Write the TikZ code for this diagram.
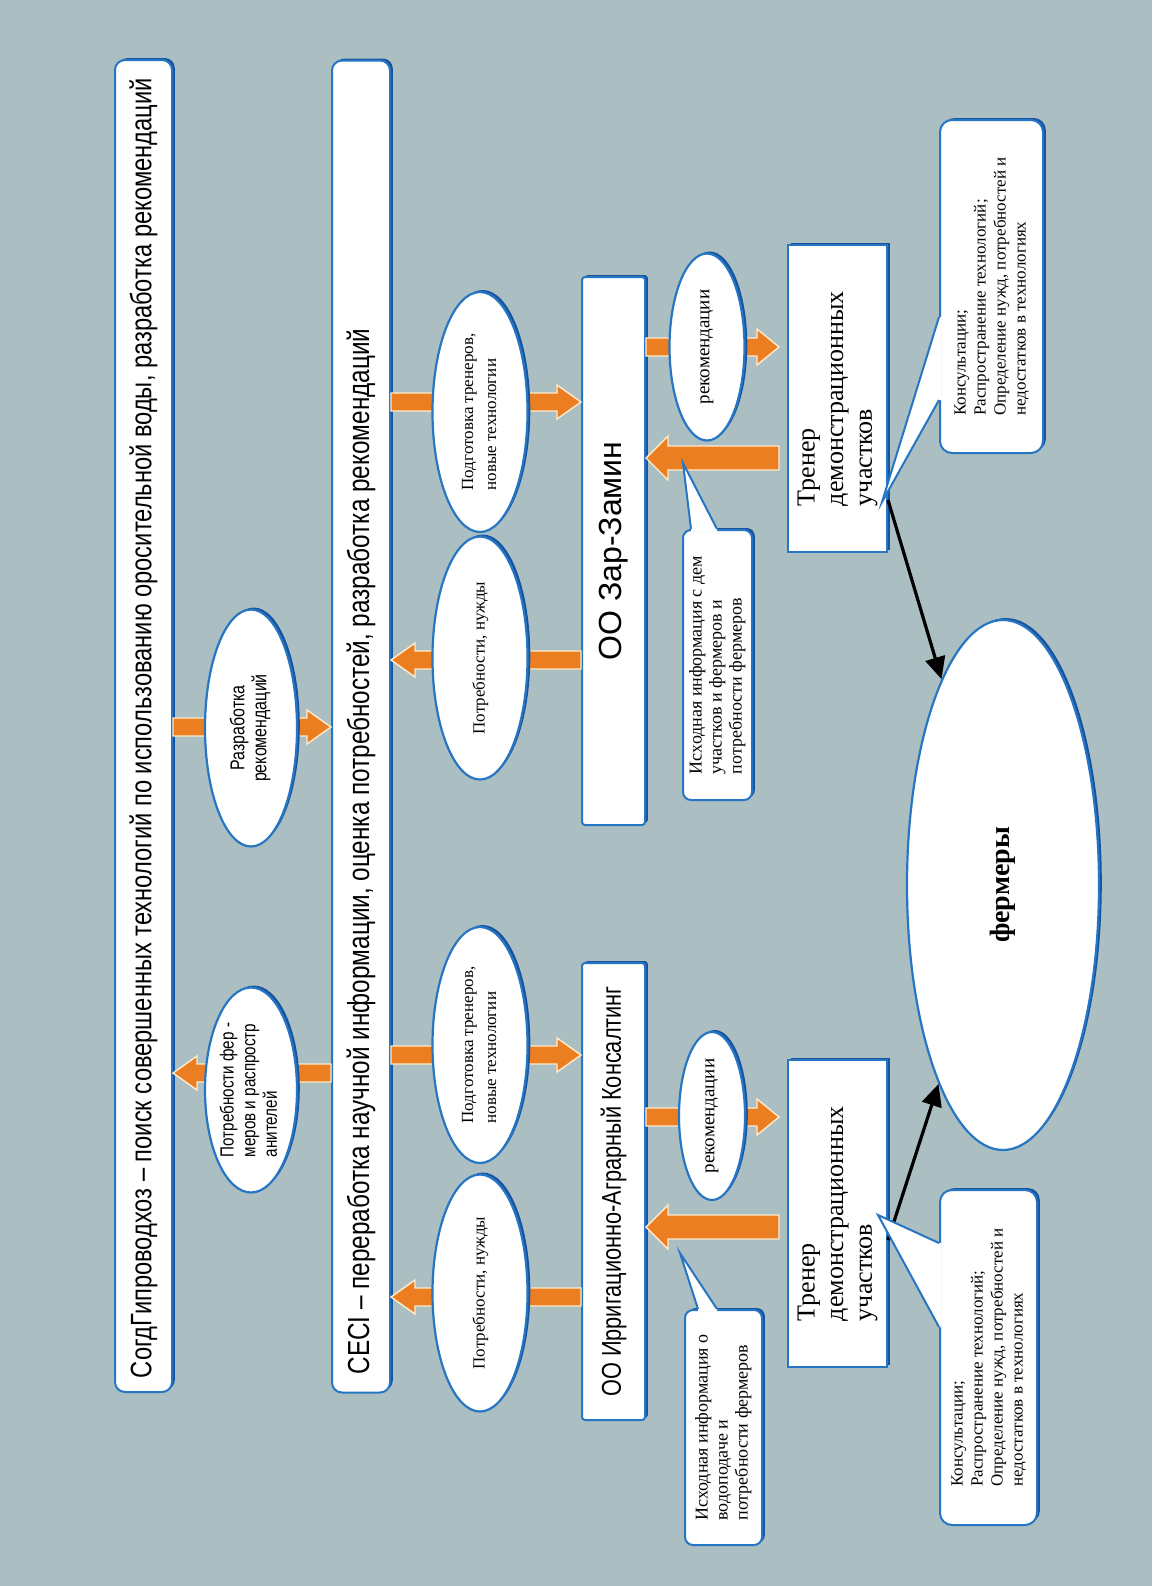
\documentclass[tikz,border=0pt]{standalone}
\usepackage{fontspec}
\setmainfont{Liberation Serif}
\newfontfamily\narrowfont[FakeStretch=0.8]{Liberation Sans}
\newfontfamily\plainsans{Liberation Sans}
\usepackage{graphicx}
\usetikzlibrary{shapes.geometric, shadows, calc, arrows.meta}
\definecolor{bgA}{RGB}{171,190,193}
\definecolor{blueA}{RGB}{38,118,196}
\definecolor{blueD}{RGB}{22,84,160}
\definecolor{orA}{RGB}{236,126,34}
\definecolor{orL}{RGB}{255,236,205}
\tikzset{
  shad/.style={drop shadow={shadow xshift=1.4pt, shadow yshift=1pt, fill=blueD, opacity=1}},
  bigbox/.style={draw=blueA, fill=white, line width=1pt, rounded corners=5pt, inner sep=0pt, shad},
  oobox/.style={draw=blueA, fill=white, line width=1pt, rounded corners=1.5pt, inner sep=0pt, shad},
  trbox/.style={draw=blueA, fill=white, line width=1pt, inner sep=0pt, shad},
  ell/.style={ellipse, draw=blueA, fill=white, line width=1.1pt, inner sep=0pt, shad},
  callbox/.style={draw=blueA, fill=white, line width=1pt, rounded corners=6pt, inner sep=0pt, shad},
  smallcall/.style={draw=blueA, fill=white, line width=1pt, rounded corners=4pt, inner sep=0pt, shad},
  calline/.style={draw=blueA, line width=1pt, line join=miter},
  oarr/.style={fill=orA, draw=orL, line width=0.7pt, line join=miter},
  blk/.style={draw=black, line width=1.6pt, -{Triangle[length=11pt,width=10pt]}},
}
\newcommand\blockarrow[5]{%
  \path[oarr] let \p1=(#1), \p2=(#2), \n1={sign(\x2-\x1)} in
   (\x1,\y1+#3) -- ({\x2-(\n1)*#5},\y1+#3) -- ({\x2-(\n1)*#5},\y1+#4) -- (\x2,\y1)
   -- ({\x2-(\n1)*#5},\y1-#4) -- ({\x2-(\n1)*#5},\y1-#3) -- (\x1,\y1-#3) -- cycle;}
\newcommand\callptr[5]{%
  \fill[white] (#4) -- (#1) -- (#2) -- (#3) -- (#5) -- cycle;
  \draw[calline] (#1) -- (#2) -- (#3);}
\newcommand\rtab[3]{\rotatebox{90}{#1\begin{tabular}{@{}#2@{}}#3\end{tabular}}}
\begin{document}
\begin{tikzpicture}[x=0.5pt, y=-0.5pt]
\useasboundingbox (0,0) rectangle (1152,1586);
\fill[bgA] (0,0) rectangle (1152,1586);

% main boxes
\node[bigbox, minimum width=28.5pt, minimum height=666pt] (top) at (143.5,726)
  {\rotatebox{90}{\makebox[652pt][l]{\narrowfont\fontsize{14.8}{17}\selectfont СогдГипроводхоз – поиск совершенных технологий по использованию оросительной воды, разработка рекомендаций}}};
\node[bigbox, minimum width=29pt, minimum height=666pt] (ceci) at (361,726.5)
  {\rotatebox{90}{\makebox[648pt][l]{\narrowfont\fontsize{15.2}{17}\selectfont CECI – переработка научной информации, оценка потребностей, разработка рекомендаций}}};
\node[oobox, minimum width=31.5pt, minimum height=274pt] (oo1) at (613.5,551)
  {\rotatebox{90}{\plainsans\fontsize{16}{18}\selectfont ОО Зар-Замин}};
\node[oobox, minimum width=31.5pt, minimum height=228.5pt] (oo2) at (613.5,1191.5)
  {\rotatebox{90}{\narrowfont\fontsize{13.6}{16}\selectfont ОО Ирригационно-Аграрный Консалтинг}};
\node[trbox, minimum width=49.5pt, minimum height=153.5pt] (tr1) at (837.5,398.5)
  {\rtab{\fontsize{13}{14.3}\selectfont}{l}{Тренер\\демонстрационных\\участков}};
\node[trbox, minimum width=49.5pt, minimum height=153.5pt] (tr2) at (837.5,1213.5)
  {\rtab{\fontsize{13}{14.3}\selectfont}{l}{Тренер\\демонстрационных\\участков}};

% orange arrows
\blockarrow{top.east |- 0,727}{ceci.west |- 0,727}{4.5pt}{8.5pt}{12pt}
\blockarrow{ceci.west |- 0,1073}{top.east |- 0,1073}{4.5pt}{8.5pt}{12pt}
\blockarrow{ceci.east |- 0,402}{oo1.west |- 0,402}{4.5pt}{8.5pt}{12pt}
\blockarrow{oo1.west |- 0,660}{ceci.east |- 0,660}{4.5pt}{8.5pt}{12pt}
\blockarrow{ceci.east |- 0,1055}{oo2.west |- 0,1055}{4.5pt}{8.5pt}{12pt}
\blockarrow{oo2.west |- 0,1297}{ceci.east |- 0,1297}{4.5pt}{8.5pt}{12pt}
\blockarrow{oo1.east |- 0,347}{$(tr1.west |- 0,347)+(-8,0)$}{4.5pt}{9pt}{11pt}
\blockarrow{$(tr1.west |- 0,458)+(-8,0)$}{oo1.east |- 0,458}{6pt}{11pt}{11pt}
\blockarrow{oo2.east |- 0,1117}{$(tr2.west |- 0,1117)+(-8,0)$}{4.5pt}{9pt}{11pt}
\blockarrow{$(tr2.west |- 0,1227)+(-8,0)$}{oo2.east |- 0,1227}{6pt}{11pt}{11pt}

% ellipses
\node[ell, minimum width=46pt, minimum height=102.5pt] (e1) at (251,1090)
  {\rtab{\narrowfont\fontsize{9.5}{10.8}\selectfont}{l}{Потребности фер -\\меров и распростр\\анителей}};
\node[ell, minimum width=46pt, minimum height=118.5pt] (e2) at (251,728)
  {\rtab{\narrowfont\fontsize{10}{11}\selectfont}{c}{Разработка\\рекомендаций}};
\node[ell, minimum width=47.5pt, minimum height=120pt] (e3) at (480,412)
  {\rtab{\fontsize{8.5}{11.5}\selectfont}{l}{Подготовка тренеров,\\новые технологии}};
\node[ell, minimum width=47.5pt, minimum height=121.5pt] (e4) at (480,658)
  {\rtab{\fontsize{8.5}{11.5}\selectfont}{l}{Потребности, нужды}};
\node[ell, minimum width=47.5pt, minimum height=118pt] (e5) at (480,1045)
  {\rtab{\fontsize{8.5}{11.5}\selectfont}{l}{Подготовка тренеров,\\новые технологии}};
\node[ell, minimum width=47.5pt, minimum height=118.5pt] (e6) at (480,1293)
  {\rtab{\fontsize{8.5}{11.5}\selectfont}{l}{Потребности, нужды}};
\node[ell, minimum width=37.5pt, minimum height=93.5pt] (e7) at (707,347)
  {\rotatebox{90}{\fontsize{9.5}{11}\selectfont рекомендации}};
\node[ell, minimum width=33pt, minimum height=84pt] (e8) at (712,1116)
  {\rotatebox{90}{\fontsize{9.5}{11}\selectfont рекомендации}};
\node[ell, minimum width=96pt, minimum height=265pt] (fermers) at (1003,885)
  {\rotatebox{90}{\fontsize{14}{16}\selectfont\bfseries фермеры}};

% black arrows
\draw[blk] (tr1.east |- 0,500) -- (fermers);
\draw[blk] (tr2.east |- 0,1240) -- (fermers);

% callouts
\node[smallcall, minimum width=34.5pt, minimum height=135pt] (c1) at (717.5,665)
  {\rtab{\fontsize{9}{10}\selectfont}{l}{Исходная информация с дем\\участков и фермеров и\\потребности фермеров}};
\callptr{691,0 |- c1.north}{683,463}{717,0 |- c1.north}{$(691,0 |- c1.north)+(0,2.5)$}{$(717,0 |- c1.north)+(0,2.5)$}
\node[smallcall, minimum width=38.5pt, minimum height=117.5pt] (c2) at (723.5,1427.5)
  {\rtab{\fontsize{9}{10}\selectfont}{l}{Исходная информация о\\водоподаче и\\потребности фермеров}};
\callptr{698,0 |- c2.north}{680,1253}{717,0 |- c2.north}{$(698,0 |- c2.north)+(0,2.5)$}{$(717,0 |- c2.north)+(0,2.5)$}
\node[callbox, minimum width=51.5pt, minimum height=166.5pt] (c3) at (991.5,286.5)
  {\rtab{\fontsize{8.5}{10}\selectfont}{l}{Консультации;\\Распространение технологий;\\Определение нужд, потребностей и\\недостатков в технологиях}};
\callptr{c3.west |- 0,317}{882,502}{c3.west |- 0,400}{$(c3.west |- 0,317)+(2.5,0)$}{$(c3.west |- 0,400)+(2.5,0)$}
\node[callbox, minimum width=48.5pt, minimum height=167.5pt] (c4) at (988.5,1357.5)
  {\rtab{\fontsize{8.5}{10}\selectfont}{l}{Консультации;\\Распространение технологий;\\Определение нужд, потребностей и\\недостатков в технологиях}};
\callptr{c4.west |- 0,1243}{878,1215}{c4.west |- 0,1327}{$(c4.west |- 0,1243)+(2.5,0)$}{$(c4.west |- 0,1327)+(2.5,0)$}
\end{tikzpicture}
\end{document}
